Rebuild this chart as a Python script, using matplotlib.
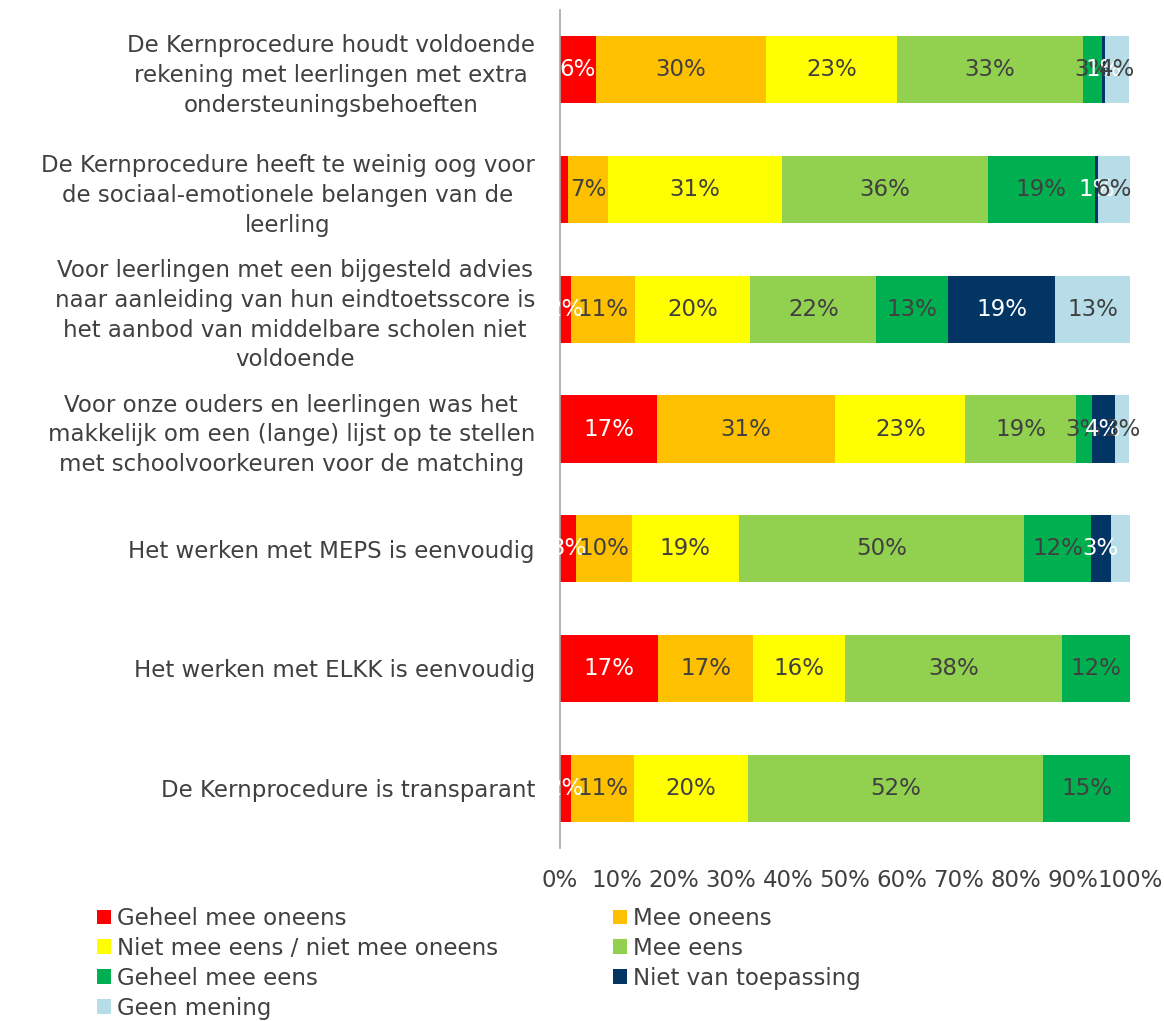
import numpy as np
import matplotlib
matplotlib.use("Agg")
import matplotlib.pyplot as plt

# statements, top to bottom as in the chart
STATEMENTS = [
    "De Kernprocedure houdt voldoende\nrekening met leerlingen met extra\nondersteuningsbehoeften",
    "De Kernprocedure heeft te weinig oog voor\nde sociaal-emotionele belangen van de\nleerling",
    "Voor leerlingen met een bijgesteld advies\nnaar aanleiding van hun eindtoetsscore is\nhet aanbod van middelbare scholen niet\nvoldoende",
    "Voor onze ouders en leerlingen was het\nmakkelijk om een (lange) lijst op te stellen\nmet schoolvoorkeuren voor de matching",
    "Het werken met MEPS is eenvoudig",
    "Het werken met ELKK is eenvoudig",
    "De Kernprocedure is transparant",
]
ANSWERS = ["Geheel mee oneens", "Mee oneens", "Niet mee eens / niet mee oneens",
           "Mee eens", "Geheel mee eens", "Niet van toepassing", "Geen mening"]

# percentage per answer, one value per statement
geheel_oneens = [6.3, 1.4, 2.0, 17.0, 2.8, 17.2, 2.0]
mee_oneens    = [29.8, 7.0, 11.2, 31.3, 9.8, 16.7, 11.0]
neutraal      = [23.0, 30.6, 20.2, 22.8, 18.8, 16.1, 20.0]
mee_eens      = [32.6, 36.0, 22.1, 19.4, 50.0, 38.0, 51.8]
geheel_eens   = [3.4, 18.8, 12.6, 2.8, 11.8, 12.0, 15.2]
nvt           = [0.6, 0.6, 18.8, 4.0, 3.4, 0.0, 0.0]
geen_mening   = [4.2, 5.6, 13.2, 2.6, 3.4, 0.0, 0.0]
SERIES = [geheel_oneens, mee_oneens, neutraal, mee_eens, geheel_eens, nvt, geen_mening]

COLORS = ["#FF0000", "#FFC000", "#FFFF00", "#92D050", "#00B050", "#023564", "#B7DEE8"]
LABEL_COLORS = ["white", "#404040", "#404040", "#404040", "#404040", "white", "#404040"]
HIDDEN = {(6, 4), (0, 1)}  # (series, statement) without a data label in the original

TXT = "#404040"
FS = 16.5

fig = plt.figure(figsize=(11.64, 10.21), dpi=100)
ax = fig.add_axes([560 / 1164, 1 - 848 / 1021, 570 / 1164, 838 / 1021])

y = np.arange(len(STATEMENTS))
left = np.zeros(len(STATEMENTS))
for s, (vals, col, lcol, name) in enumerate(zip(SERIES, COLORS, LABEL_COLORS, ANSWERS)):
    vals = np.array(vals)
    ax.barh(y, vals, left=left, height=0.56, color=col, label=name)
    for i, v in enumerate(vals):
        if v <= 0 or (s, i) in HIDDEN:
            continue
        ax.text(left[i] + v / 2, y[i], f"{v:.0f}%", ha="center", va="center",
                color=lcol, fontsize=FS)
    left += vals

ax.set_xlim(0, 100)
ax.set_ylim(len(STATEMENTS) - 0.5, -0.5)
ax.set_xticks(np.arange(0, 101, 10))
ax.set_xticklabels([f"{t}%" for t in range(0, 101, 10)])
ax.set_yticks(y)
ax.set_yticklabels(STATEMENTS, linespacing=1.38, ma="center")
ax.tick_params(axis="x", length=0, pad=15, labelsize=FS, labelcolor=TXT)
ax.tick_params(axis="y", length=0, pad=18, labelsize=FS, labelcolor=TXT)
for sp in ["top", "right", "bottom"]:
    ax.spines[sp].set_visible(False)
ax.spines["left"].set_color("#A6A6A6")
ax.spines["left"].set_linewidth(1.2)

# legend: row-major order in two columns
h, l = ax.get_legend_handles_labels()
order = [0, 2, 4, 6, 1, 3, 5]
fig.legend([h[i] for i in order], [l[i] for i in order], ncol=2,
           loc="upper left", bbox_to_anchor=(97 / 1164, 1 - 907 / 1021),
           frameon=False, fontsize=FS, labelcolor=TXT,
           handlelength=0.62, handleheight=0.62, handletextpad=0.25,
           columnspacing=5.0, labelspacing=0.3, borderpad=0, borderaxespad=0)

fig.savefig("out.png", dpi=100)
